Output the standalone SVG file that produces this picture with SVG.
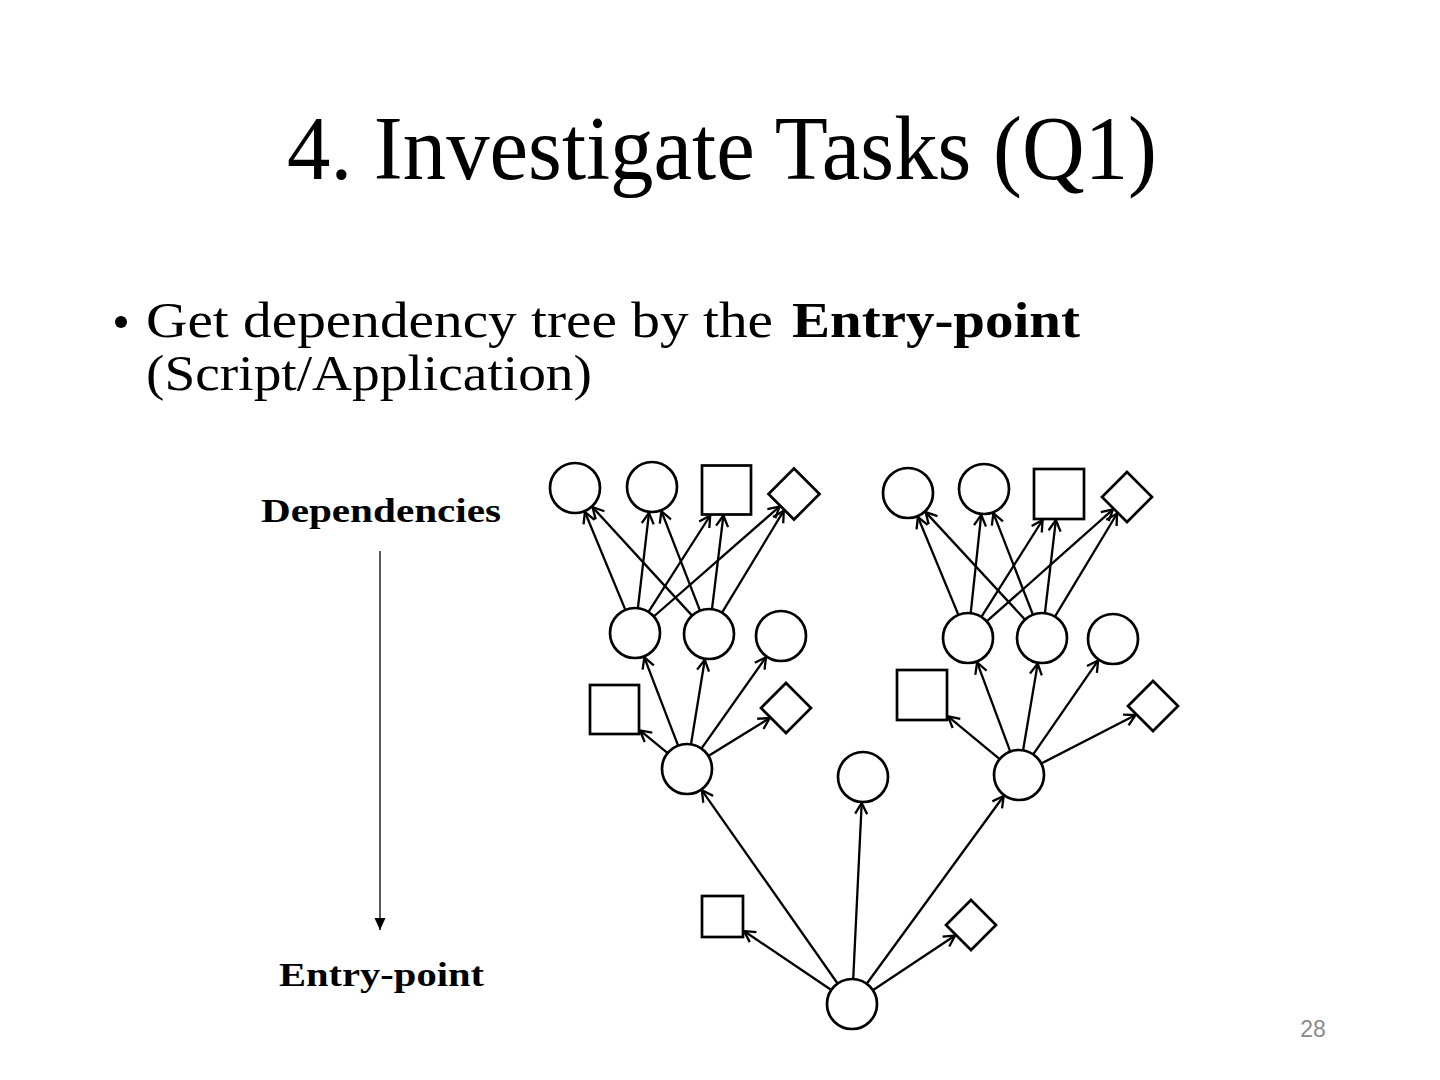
<svg xmlns="http://www.w3.org/2000/svg" width="1440" height="1080" viewBox="0 0 1440 1080">
<style>
.n{fill:#fff;stroke:#000;stroke-width:2.7}
.e{stroke:#000;stroke-width:2.3;fill:none;marker-end:url(#arr)}
.t{font-family:"Liberation Serif","Times New Roman",serif;fill:#000}
.b{font-weight:bold}
</style>
<defs>
<marker id="arr" viewBox="-13 -8 15 16" refX="0" refY="0" markerWidth="15" markerHeight="16" markerUnits="userSpaceOnUse" orient="auto">
<path d="M-11,-6 L0,0 L-11,6" fill="none" stroke="#000" stroke-width="2.3" stroke-linejoin="miter"/>
</marker>
<marker id="tri" viewBox="0 0 12 14" refX="6" refY="12" markerWidth="12" markerHeight="14" markerUnits="userSpaceOnUse" orient="0">
<path d="M0.5,0 L11.5,0 L6,12 Z" fill="#000"/>
</marker>
</defs>
<rect width="1440" height="1080" fill="#fff"/>
<g id="title">
<text class="t" x="287" y="179" font-size="90" textLength="870" lengthAdjust="spacingAndGlyphs">4. Investigate Tasks (Q1)</text>
</g>
<g id="bullet">
<circle cx="121" cy="322" r="6" fill="#000"/>
<text class="t" x="146" y="337" font-size="50" textLength="627" lengthAdjust="spacingAndGlyphs">Get dependency tree by the</text>
<text class="t b" x="792" y="337" font-size="50" textLength="288" lengthAdjust="spacingAndGlyphs">Entry-point</text>
<text class="t" x="146" y="390" font-size="50" textLength="446" lengthAdjust="spacingAndGlyphs">(Script/Application)</text>
</g>
<g id="axis">
<text class="t b" x="261" y="522" font-size="33" textLength="240" lengthAdjust="spacingAndGlyphs">Dependencies</text>
<line x1="380" y1="551" x2="380" y2="930" stroke="#000" stroke-width="1.3" marker-end="url(#tri)"/>
<text class="t b" x="279" y="986" font-size="33" textLength="205" lengthAdjust="spacingAndGlyphs">Entry-point</text>
</g>
<g id="connectors">
<line class="e" x1="625.4" y1="609.9" x2="584.9" y2="512.0"/>
<line class="e" x1="637.9" y1="608.2" x2="649.0" y2="512.8"/>
<line class="e" x1="648.5" y1="611.9" x2="710.2" y2="515.5"/>
<line class="e" x1="653.8" y1="616.5" x2="779.6" y2="506.5"/>
<line class="e" x1="692.1" y1="615.6" x2="592.6" y2="507.2"/>
<line class="e" x1="700.0" y1="610.7" x2="661.4" y2="511.2"/>
<line class="e" x1="712.0" y1="609.2" x2="723.4" y2="515.5"/>
<line class="e" x1="722.0" y1="612.6" x2="783.8" y2="510.7"/>
<line class="e" x1="667.7" y1="753.1" x2="640.0" y2="730.4"/>
<line class="e" x1="678.1" y1="745.6" x2="644.3" y2="657.3"/>
<line class="e" x1="691.0" y1="744.3" x2="704.8" y2="659.7"/>
<line class="e" x1="701.4" y1="748.6" x2="766.0" y2="657.2"/>
<line class="e" x1="708.3" y1="755.9" x2="769.7" y2="718.1"/>
<line class="e" x1="958.4" y1="614.9" x2="917.9" y2="517.0"/>
<line class="e" x1="970.7" y1="613.1" x2="981.2" y2="514.9"/>
<line class="e" x1="981.4" y1="616.9" x2="1042.6" y2="520.0"/>
<line class="e" x1="986.7" y1="621.4" x2="1113.0" y2="509.4"/>
<line class="e" x1="1025.0" y1="619.6" x2="925.6" y2="512.1"/>
<line class="e" x1="1032.9" y1="614.7" x2="993.4" y2="513.2"/>
<line class="e" x1="1044.9" y1="613.2" x2="1055.9" y2="520.0"/>
<line class="e" x1="1054.9" y1="616.6" x2="1117.1" y2="513.5"/>
<line class="e" x1="999.7" y1="759.1" x2="948.0" y2="716.4"/>
<line class="e" x1="1010.3" y1="751.6" x2="977.1" y2="662.4"/>
<line class="e" x1="1023.1" y1="750.3" x2="1037.7" y2="663.6"/>
<line class="e" x1="1033.2" y1="754.4" x2="1098.2" y2="660.4"/>
<line class="e" x1="1041.2" y1="763.6" x2="1135.6" y2="715.0"/>
<line class="e" x1="831.3" y1="990.0" x2="744.0" y2="931.0"/>
<line class="e" x1="837.6" y1="983.5" x2="701.9" y2="790.3"/>
<line class="e" x1="853.2" y1="979.0" x2="861.7" y2="803.0"/>
<line class="e" x1="866.7" y1="983.8" x2="1003.7" y2="796.0"/>
<line class="e" x1="872.8" y1="990.2" x2="955.1" y2="935.5"/>
</g>
<g id="A1"><circle class="n" cx="575" cy="488" r="25"/></g>
<g id="A2"><circle class="n" cx="652" cy="487" r="25"/></g>
<g id="A3"><rect class="n" x="702" y="465.5" width="49" height="49"/></g>
<g id="A4"><polygon class="n" points="794,468.5 819.5,494 794,519.5 768.5,494"/></g>
<g id="B1"><circle class="n" cx="635" cy="633" r="25"/></g>
<g id="B2"><circle class="n" cx="709" cy="634" r="25"/></g>
<g id="B3"><circle class="n" cx="781" cy="636" r="25"/></g>
<g id="C1"><rect class="n" x="590" y="685" width="49" height="49"/></g>
<g id="C2"><polygon class="n" points="786,683 811,708 786,733 761,708"/></g>
<g id="D"><circle class="n" cx="687" cy="769" r="25"/></g>
<g id="E"><circle class="n" cx="863" cy="777" r="25"/></g>
<g id="F1"><circle class="n" cx="908" cy="493" r="25"/></g>
<g id="F2"><circle class="n" cx="984" cy="489" r="25"/></g>
<g id="F3"><rect class="n" x="1034" y="469" width="50" height="50"/></g>
<g id="F4"><polygon class="n" points="1127,472 1152,497 1127,522 1102,497"/></g>
<g id="G1"><circle class="n" cx="968" cy="638" r="25"/></g>
<g id="G2"><circle class="n" cx="1042" cy="638" r="25"/></g>
<g id="G3"><circle class="n" cx="1113" cy="639" r="25"/></g>
<g id="H1"><rect class="n" x="897" y="670" width="50" height="50"/></g>
<g id="H2"><polygon class="n" points="1153,681 1178,706 1153,731 1128,706"/></g>
<g id="I"><circle class="n" cx="1019" cy="775" r="25"/></g>
<g id="J1"><rect class="n" x="702" y="896" width="41" height="41"/></g>
<g id="J2"><polygon class="n" points="971,900 996,925 971,950 946,925"/></g>
<g id="R"><circle class="n" cx="852" cy="1004" r="25"/></g>
<g id="page">
<text x="1313" y="1037" font-family="Liberation Sans, Arial, sans-serif" font-size="23" fill="#8a8a8a" text-anchor="middle">28</text>
</g>
</svg>
